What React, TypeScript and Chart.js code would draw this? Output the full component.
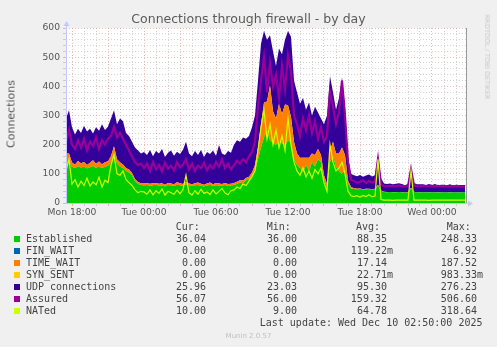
import React, { useEffect, useRef } from "react";
import { Chart, registerables } from "chart.js";
Chart.register(...registerables);

// Time axis: hours counted from Mon 00:00; one sample every 15 minutes from Mon 17:30
const startHour = 17.5;
const stepHours = 0.25;
const endHour = 50 + 50 / 60; // Wed 02:50

const established = [
  130, 140,
  124, 120, 126, 122, 125, 118, 123, 127, 121, 125, 120, 124, 128,
  140, 170, 135,
  125, 120, 110, 105, 95, 75, 65, 62,
  60, 62, 58, 61, 63, 59, 60, 57, 62, 60, 58, 63, 61, 59, 64, 60, 58, 61, 62, 59, 57, 60, 63, 58, 61, 60, 59, 62, 58, 60,
  62, 65, 70, 68, 78, 80, 95, 110,
  150, 190, 225, 248, 215, 205, 200, 210, 205, 198, 215, 205,
  150, 130, 120, 105, 130, 110, 140, 125, 150, 140, 80, 55,
  140, 160, 125, 110, 100, 115,
  67, 50, 48, 47, 48, 46, 47, 48, 46, 47,
  60, 42,
  38, 37, 38, 37, 37, 38, 37, 36, 37, 50, 38, 37, 37, 36, 37, 37, 36, 37, 36, 37, 36, 36, 37, 36, 36, 37, 36, 36,
];

const timeWait = [
  40, 30,
  15, 12, 18, 14, 16, 12, 15, 20, 14, 17, 13, 16, 15,
  20, 25, 15,
  15, 12, 10, 10, 8, 7, 7, 6,
  7, 6, 8, 7, 6, 7, 8, 6, 7, 7, 6, 8, 7, 6, 9, 7, 6, 7, 8, 7, 6, 7, 7, 6, 8, 7, 6, 7, 7, 6,
  7, 8, 8, 9, 8, 10, 10, 20,
  40, 80, 120, 100, 187.5, 110, 90, 130, 100, 140, 120, 90,
  60, 40, 35, 50, 25, 45, 30, 40, 35, 25, 15, 10,
  40, 50, 45, 60, 90, 50,
  10, 5, 3, 2, 2, 1, 2, 1, 1, 2,
  3, 1,
  1, 1, 0, 1, 1, 0, 1, 0, 1, 2, 1, 0, 1, 0, 0, 1, 0, 0, 1, 0, 0, 0, 1, 0, 0, 0, 0, 0,
];

const udp = [
  120, 148,
  121, 103, 111, 104, 124, 115, 117, 91, 125, 106, 137, 110, 119,
  130, 123, 120,
  150, 148, 120, 115, 107, 108, 108, 102,
  108, 97, 116, 92, 109, 104, 117, 95, 103, 113, 98, 105, 100, 118, 137, 103, 96, 110, 95, 116, 95, 108, 98, 116, 93, 132, 105, 96, 113, 106,
  131, 142, 132, 148, 134, 140, 155, 170,
  230, 276, 245, 212, 173, 205, 180, 190, 205, 222, 255, 275,
  210, 210, 185, 205, 165, 190, 130, 165, 125, 125, 175, 235,
  255, 170, 150, 190, 240, 165,
  83, 45, 44, 43, 46, 43, 45, 49, 44, 46,
  97, 42,
  28, 27, 29, 26, 28, 30, 27, 25, 28, 70, 30, 27, 26, 28, 25, 27, 26, 28, 24, 26, 27, 25, 26, 24, 27, 25, 26, 26,
];

const assured = [
  210, 250,
  200, 185, 215, 190, 220, 180, 210, 195, 225, 185, 215, 200, 220,
  230, 260, 225,
  240, 220, 200, 180, 160, 140, 130, 135,
  120, 135, 110, 140, 115, 130, 108, 138, 118, 128, 112, 140, 122, 132, 150, 115, 135, 110, 128, 120, 138, 112, 130, 118, 140, 125, 150, 120, 135, 115,
  130, 145, 135, 150, 140, 160, 175, 210,
  330, 420, 500, 380, 480, 400, 440, 360, 470, 390, 506, 450,
  300, 270, 230, 290, 250, 300, 240, 280, 220, 260, 210, 230,
  380, 330, 270, 310, 420, 300,
  140, 80, 75, 70, 72, 78, 68, 76, 70, 74,
  150, 65,
  58, 57, 59, 58, 57, 60, 58, 57, 58, 115, 60, 58, 57, 59, 58, 57, 58, 57, 59, 57, 58, 57, 56, 57, 58, 57, 56, 56,
];

const nated = [
  110, 150,
  65, 80, 55, 75, 60, 85, 58, 72, 62, 88, 55, 78, 70,
  130, 165, 100,
  95, 110, 80, 70, 60, 45, 35, 40,
  38, 30, 45, 28, 42, 33, 48, 27, 40, 35, 30, 44, 32, 46, 95, 35, 28, 42, 30, 47, 33, 38, 29, 45, 31, 40, 50, 34, 28, 42,
  45, 55, 50, 65, 60, 75, 90, 110,
  180, 260, 318, 220, 270, 200, 250, 190, 230, 180, 290, 200,
  140, 110, 95, 120, 90, 110, 85, 115, 100, 120, 70, 40,
  200, 140, 110, 120, 140, 100,
  40, 25, 22, 25, 20, 26, 22, 28, 21, 24,
  150, 12,
  10, 10, 10, 9, 10, 10, 10, 10, 10, 110, 10, 10, 10, 10, 10, 9, 10, 10, 10, 10, 10, 10, 10, 10, 10, 10, 10, 10,
];

const xLabelHours = [18, 24, 30, 36, 42, 48];
const xTickLabels = ["Mon 18:00", "Tue 00:00", "Tue 06:00", "Tue 12:00", "Tue 18:00", "Wed 00:00"];
const yLabelValues = [0, 100, 200, 300, 400, 500, 600];

const legendNames = ["Established", "FIN_WAIT", "TIME_WAIT", "SYN_SENT", "UDP connections", "Assured", "NATed"];
const legendColors = ["#00CC00", "#0066B3", "#FF8000", "#FFCC00", "#330099", "#990099", "#CCFF00"];
const curValues = ["36.04", "0.00", "0.00", "0.00", "25.96", "56.07", "10.00"];
const minValues = ["36.00", "0.00", "0.00", "0.00", "23.03", "56.00", "9.00"];
const avgValues = ["88.35", "119.22m", "17.14", "22.71m", "95.30", "159.32", "64.78"];
const maxValues = ["248.33", "6.92", "187.52", "983.33m", "276.23", "506.60", "318.64"];

const MAJOR = "rgba(222,130,130,0.55)";
const MINOR = "rgba(160,160,160,0.45)";
const TEXT = "#555";

const muninPlugin = {
  id: "muninFrame",
  beforeDraw(chart: any) {
    const { ctx, chartArea: a } = chart;
    ctx.save();
    ctx.fillStyle = "#ffffff";
    ctx.fillRect(a.left, a.top, a.right - a.left, a.bottom - a.top);
    ctx.restore();
  },
  afterDraw(chart: any) {
    const { ctx, chartArea: a } = chart;
    ctx.save();
    ctx.lineWidth = 1;
    ctx.strokeStyle = "#9a9a9a";
    ctx.beginPath();
    ctx.moveTo(a.right + 0.5, a.top);
    ctx.lineTo(a.right + 0.5, a.bottom);
    ctx.stroke();
    const ax = "rgb(196,200,255)";
    ctx.strokeStyle = ax;
    ctx.fillStyle = ax;
    ctx.beginPath();
    ctx.moveTo(a.left + 0.5, a.bottom + 1);
    ctx.lineTo(a.left + 0.5, a.top - 3);
    ctx.stroke();
    ctx.beginPath();
    ctx.moveTo(a.left - 2.5, a.top - 2);
    ctx.lineTo(a.left + 3.5, a.top - 2);
    ctx.lineTo(a.left + 0.5, a.top - 7);
    ctx.closePath();
    ctx.fill();
    ctx.beginPath();
    ctx.moveTo(a.left, a.bottom + 0.5);
    ctx.lineTo(a.right + 3, a.bottom + 0.5);
    ctx.stroke();
    ctx.beginPath();
    ctx.moveTo(a.right + 2, a.bottom - 2.5);
    ctx.lineTo(a.right + 2, a.bottom + 3.5);
    ctx.lineTo(a.right + 7, a.bottom + 0.5);
    ctx.closePath();
    ctx.fill();
    ctx.restore();
  },
};

function MuninChart() {
  const ref = useRef<HTMLCanvasElement | null>(null);
  useEffect(() => {
    if (!ref.current) return;
    const hours = established.map((_, i) => startHour + i * stepHours);
    const area = (label: string, data: number[], color: string, fill: any, order: number) => ({
      label,
      data,
      stack: "main",
      fill,
      order,
      backgroundColor: color,
      borderColor: "rgba(0,0,0,0)",
      borderWidth: 0,
      pointRadius: 0,
      tension: 0,
    });
    const chart = new Chart(ref.current, {
      type: "line",
      data: {
        labels: hours,
        datasets: [
          area("Established", established, "#00CC00", "origin", 10),
          area("TIME_WAIT", timeWait, "#FF8000", "-1", 11),
          area("UDP connections", udp, "#330099", "-1", 12),
          {
            label: "Assured",
            data: assured,
            stack: "assured",
            fill: false,
            order: 1,
            borderColor: "#990099",
            borderWidth: 2.2,
            pointRadius: 0,
            tension: 0,
          } as any,
          {
            label: "NATed",
            data: nated,
            stack: "nated",
            fill: false,
            order: 0,
            borderColor: "#CCFF00",
            borderWidth: 1.2,
            pointRadius: 0,
            tension: 0,
          } as any,
        ],
      },
      options: {
        animation: false,
        responsive: false,
        events: [],
        layout: { padding: { left: 26, right: 31, top: 28, bottom: 124 } },
        plugins: { legend: { display: false }, tooltip: { enabled: false }, title: { display: false } },
        scales: {
          x: {
            type: "linear",
            min: startHour,
            max: endHour,
            afterBuildTicks: (scale: any) => {
              const t: any[] = [];
              for (let h = 18; h <= 50; h++) t.push({ value: h });
              scale.ticks = t;
            },
            afterFit: (scale: any) => {
              scale.height = 20;
            },
            border: { display: false, dash: [1, 2] },
            grid: {
              color: (c: any) => (c.tick && c.tick.value % 3 === 0 ? MAJOR : MINOR),
              tickColor: (c: any) => (c.tick && c.tick.value % 3 === 0 ? MAJOR : MINOR),
              tickLength: 3,
              lineWidth: 1,
            },
            ticks: {
              autoSkip: false,
              maxRotation: 0,
              padding: 1,
              color: TEXT,
              font: { family: "DejaVu Sans", size: 9.2 },
              callback: (v: any) => {
                const k = xLabelHours.indexOf(Number(v));
                return k >= 0 ? xTickLabels[k] : "";
              },
            },
          },
          y: {
            stacked: true,
            min: 0,
            max: 600,
            afterBuildTicks: (scale: any) => {
              const t: any[] = [];
              for (let v = 0; v <= 600; v += 20) t.push({ value: v });
              scale.ticks = t;
            },
            afterFit: (scale: any) => {
              scale.width = 40;
            },
            border: { display: false, dash: [1, 2] },
            grid: {
              color: (c: any) => (c.tick && c.tick.value % 100 === 0 ? MAJOR : MINOR),
              tickColor: (c: any) => (c.tick && c.tick.value % 100 === 0 ? MAJOR : MINOR),
              tickLength: 3,
              lineWidth: 1,
            },
            ticks: {
              autoSkip: false,
              padding: 3,
              color: TEXT,
              font: { family: "DejaVu Sans", size: 9.2 },
              callback: (v: any) => (yLabelValues.includes(Number(v)) ? String(v) : ""),
            },
          },
        },
      },
      plugins: [muninPlugin],
    } as any);
    return () => chart.destroy();
  }, []);
  return <canvas ref={ref} width={497} height={347} style={{ position: "absolute", left: 0, top: 0 }} />;
}

const mono: React.CSSProperties = {
  position: "absolute",
  fontFamily: "'DejaVu Sans Mono', monospace",
  fontSize: 10,
  lineHeight: "12px",
  whiteSpace: "pre",
  color: "#444",
};

function Legend() {
  const rowTop = (k: number) => 221.4 + 12 * k;
  const colRights = [212, 303, 393, 483];
  const headers = ["Cur:", "Min:", "Avg:", "Max:"];
  const headerLefts = [175.7, 266.7, 356, 446.7];
  const unitPad = (s: string) => (s.endsWith("m") ? s : s + " ");
  return (
    <>
      {headers.map((h, i) => (
        <div key={h} style={{ ...mono, left: headerLefts[i], top: rowTop(0) }}>
          {h}
        </div>
      ))}
      {legendNames.map((name, r) => {
        const k = r + 1;
        const vals = [curValues[r], minValues[r], avgValues[r], maxValues[r]];
        return (
          <React.Fragment key={name}>
            <div
              style={{
                position: "absolute",
                left: 14,
                top: 227.3 + 12 * k - 3,
                width: 6,
                height: 6,
                background: legendColors[r],
              }}
            />
            <div style={{ ...mono, left: 26, top: rowTop(k) }}>{name}</div>
            {vals.map((v, c) => (
              <div key={c} style={{ ...mono, right: 497 - colRights[c], top: rowTop(k), textAlign: "right" }}>
                {unitPad(v)}
              </div>
            ))}
          </React.Fragment>
        );
      })}
      <div style={{ ...mono, right: 497 - 482.5, top: rowTop(8), textAlign: "right" }}>
        Last update: Wed Dec 10 02:50:00 2025
      </div>
    </>
  );
}

export default function App() {
  return (
    <div
      style={{
        position: "absolute",
        left: 0,
        top: 0,
        width: 497,
        height: 347,
        background: "#f0f0f0",
        overflow: "hidden",
        fontFamily: "'DejaVu Sans', sans-serif",
      }}
    >
      <MuninChart />
      <div
        style={{
          position: "absolute",
          left: 0,
          top: 11,
          width: 497,
          textAlign: "center",
          fontSize: 12.5,
          lineHeight: "15px",
          color: "#5a5a5a",
          whiteSpace: "nowrap",
        }}
      >
        Connections through firewall - by day
      </div>
      <div
        style={{
          position: "absolute",
          left: 10.5,
          top: 114,
          transform: "translate(-50%, -50%) rotate(-90deg)",
          fontSize: 11,
          lineHeight: "13px",
          color: TEXT,
          whiteSpace: "nowrap",
        }}
      >
        Connections
      </div>
      <div
        style={{
          position: "absolute",
          left: 487,
          top: 56.5,
          transform: "translate(-50%, -50%) rotate(90deg)",
          fontSize: 6.6,
          lineHeight: "8px",
          color: "#c8c8c8",
          whiteSpace: "nowrap",
        }}
      >
        RRDTOOL / TOBI OETIKER
      </div>
      <Legend />
      <div
        style={{
          position: "absolute",
          left: 0,
          width: 497,
          top: 331.5,
          textAlign: "center",
          fontSize: 7,
          lineHeight: "9px",
          color: "#c0c0c0",
          whiteSpace: "nowrap",
        }}
      >
        Munin 2.0.57
      </div>
    </div>
  );
}
